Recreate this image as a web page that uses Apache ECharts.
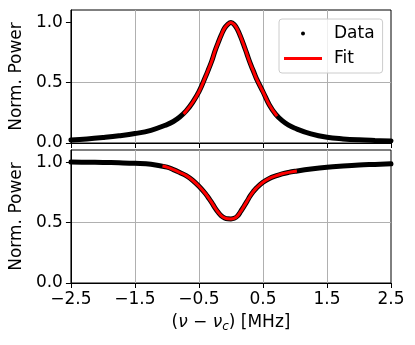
<!DOCTYPE html>
<html>
<head>
<meta charset="utf-8">
<script src="https://cdn.jsdelivr.net/npm/echarts@6/dist/echarts.min.js"></script>
<style>
  html, body { margin: 0; padding: 0; background: #fff; }
  #chart { width: 415px; height: 345px; }
</style>
</head>
<body>
<div id="chart"></div>
<script>
// detuning in MHz
var freq = [-2.5, -2.25, -2.0, -1.75, -1.5, -1.25, -1.0, -0.9, -0.8, -0.7, -0.6, -0.5, -0.4, -0.35, -0.3, -0.25, -0.2, -0.15, -0.1, -0.05, 0.0,
  0.05, 0.1, 0.15, 0.2, 0.25, 0.3, 0.35, 0.4, 0.5, 0.6, 0.7, 0.8, 0.9, 1.0, 1.25, 1.5, 1.75, 2.0, 2.25, 2.5];
var powerTop = [0.025, 0.034, 0.046, 0.06, 0.078, 0.105, 0.152, 0.178, 0.215, 0.265, 0.335, 0.424, 0.545, 0.61, 0.678, 0.76, 0.83, 0.895, 0.95, 0.982, 0.997,
  0.98, 0.94, 0.88, 0.81, 0.735, 0.66, 0.595, 0.53, 0.424, 0.315, 0.237, 0.185, 0.148, 0.122, 0.075, 0.047, 0.034, 0.026, 0.021, 0.017];
var powerBottom = [1.0, 0.999, 0.997, 0.994, 0.99, 0.983, 0.958, 0.938, 0.914, 0.888, 0.85, 0.8, 0.74, 0.703, 0.665, 0.622, 0.585, 0.555, 0.538, 0.531, 0.53,
  0.535, 0.553, 0.59, 0.632, 0.675, 0.72, 0.757, 0.787, 0.833, 0.865, 0.886, 0.903, 0.915, 0.924, 0.943, 0.958, 0.968, 0.976, 0.981, 0.986];

// fitted curves (red), only over the fit window
var fitFreqTop = [-0.74, -0.7, -0.6, -0.5, -0.4, -0.35, -0.3, -0.25, -0.2, -0.15, -0.1, -0.05, 0.0,
  0.05, 0.1, 0.15, 0.2, 0.25, 0.3, 0.35, 0.4, 0.5, 0.6, 0.72];
var fitTop = [0.24, 0.265, 0.335, 0.424, 0.545, 0.61, 0.678, 0.76, 0.83, 0.895, 0.95, 0.982, 0.997,
  0.98, 0.94, 0.88, 0.81, 0.735, 0.66, 0.595, 0.53, 0.424, 0.315, 0.222];
var fitFreqBottom = [-1.07, -1.0, -0.9, -0.8, -0.7, -0.6, -0.5, -0.4, -0.35, -0.3, -0.25, -0.2, -0.15, -0.1, -0.05, 0.0,
  0.05, 0.1, 0.15, 0.2, 0.25, 0.3, 0.35, 0.4, 0.5, 0.6, 0.7, 0.8, 0.9, 1.03];
var fitBottom = [0.967, 0.958, 0.938, 0.914, 0.888, 0.85, 0.8, 0.74, 0.703, 0.665, 0.622, 0.585, 0.555, 0.538, 0.531, 0.53,
  0.535, 0.553, 0.59, 0.632, 0.675, 0.72, 0.757, 0.787, 0.833, 0.865, 0.886, 0.903, 0.915, 0.926];

var yTicks = [0, 0.5, 1.0];
var FONT = 'DejaVu Sans';

function pairs(xs, ys) {
  return xs.map(function (x, i) { return [x, ys[i]]; });
}
function fmt(v) {
  return v.toFixed(1).replace('-', '\u2212');
}

var chart = echarts.init(document.getElementById('chart'), null, { renderer: 'canvas' });

function xAxisOpt(idx, showLabels) {
  return {
    type: 'value', gridIndex: idx, min: -2.5, max: 2.5, interval: 1,
    axisLine: { show: true, onZero: false, lineStyle: { color: '#000', width: 1 } },
    axisTick: { show: true, length: 5, lineStyle: { color: '#000', width: 1 } },
    axisLabel: { show: showLabels, formatter: fmt, color: '#000', fontSize: 17, fontFamily: FONT, margin: 8 },
    splitLine: { show: true, showMinLine: false, showMaxLine: false, lineStyle: { color: '#b0b0b0', width: 1 } },
    name: showLabels ? '({it|\u03bd} \u2212 {it|\u03bd}{sub|c}) [MHz]' : '',
    nameLocation: 'middle', nameGap: 30,
    nameTextStyle: {
      color: '#000', fontSize: 17, fontFamily: FONT,
      rich: {
        it: { fontSize: 17, fontStyle: 'italic', fontFamily: FONT, color: '#000' },
        sub: { fontSize: 12, fontStyle: 'italic', fontFamily: FONT, color: '#000', padding: [8, 0, 0, 0] }
      }
    }
  };
}
function yAxisOpt(idx) {
  return {
    type: 'value', gridIndex: idx, min: 0, max: 1.1, interval: 0.5,
    axisLine: { show: true, onZero: false, lineStyle: { color: '#000', width: 1 } },
    axisTick: { show: true, length: 5, customValues: yTicks, lineStyle: { color: '#000', width: 1 } },
    axisLabel: { customValues: yTicks, formatter: fmt, color: '#000', fontSize: 17, fontFamily: FONT, margin: 8 },
    splitLine: { show: true, showMinLine: false, showMaxLine: false, lineStyle: { color: '#b0b0b0', width: 1 } },
    name: 'Norm. Power', nameLocation: 'middle', nameGap: 44,
    nameTextStyle: { color: '#000', fontSize: 17, fontFamily: FONT }
  };
}

var option = {
  animation: false,
  backgroundColor: '#fff',
  grid: [
    { left: 70, top: 10, width: 321, height: 133, show: true, borderColor: '#000', borderWidth: 1 },
    { left: 70, top: 150, width: 321, height: 133, show: true, borderColor: '#000', borderWidth: 1 }
  ],
  xAxis: [xAxisOpt(0, false), xAxisOpt(1, true)],
  yAxis: [yAxisOpt(0), yAxisOpt(1)],
  legend: {
    orient: 'vertical', left: 279, top: 19,
    padding: [6, 8, 6, 5], itemGap: 8,
    itemWidth: 38, itemHeight: 4,
    borderColor: '#cccccc', borderWidth: 1, borderRadius: 3,
    backgroundColor: 'rgba(255,255,255,0.8)',
    textStyle: { color: '#000', fontSize: 17, fontFamily: FONT, padding: [0, 0, 0, 7] },
    data: [
      { name: 'Data', icon: 'circle' },
      { name: 'Fit', icon: 'path://M0,0L38,0L38,3L0,3Z' }
    ]
  },
  series: [
    {
      name: 'Data', type: 'line', xAxisIndex: 0, yAxisIndex: 0, data: pairs(freq, powerTop),
      smooth: 0.4, symbol: 'none', color: '#000', lineStyle: { color: '#000', width: 5, cap: 'round' }, z: 2
    },
    {
      name: 'Fit', type: 'line', xAxisIndex: 0, yAxisIndex: 0, data: pairs(fitFreqTop, fitTop),
      smooth: 0.4, symbol: 'none', color: '#ff0000', lineStyle: { color: '#ff0000', width: 3 }, z: 3
    },
    {
      name: 'Data', type: 'line', xAxisIndex: 1, yAxisIndex: 1, data: pairs(freq, powerBottom),
      smooth: 0.4, symbol: 'none', color: '#000', lineStyle: { color: '#000', width: 5, cap: 'round' }, z: 2
    },
    {
      name: 'Fit', type: 'line', xAxisIndex: 1, yAxisIndex: 1, data: pairs(fitFreqBottom, fitBottom),
      smooth: 0.4, symbol: 'none', color: '#ff0000', lineStyle: { color: '#ff0000', width: 3 }, z: 3
    }
  ]
};
chart.setOption(option);
</script>
</body>
</html>
